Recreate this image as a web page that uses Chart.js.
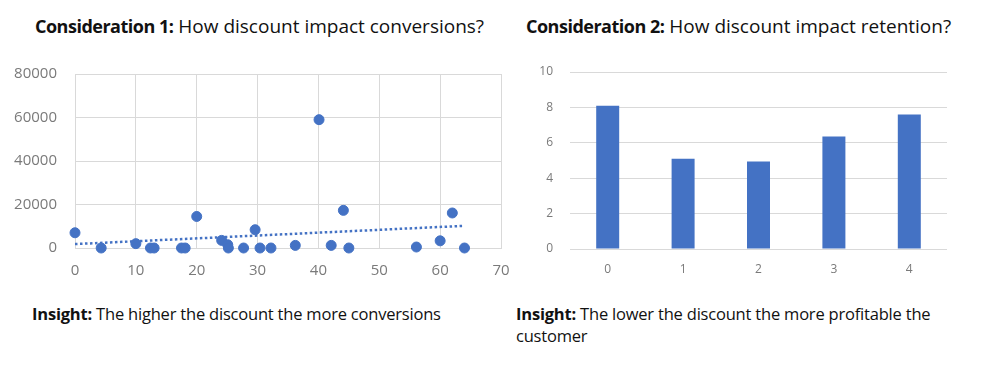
<!DOCTYPE html>
<html>
<head>
<meta charset="utf-8">
<script src="https://cdn.jsdelivr.net/npm/chart.js@4"></script>
<style>
  body { margin: 0; background: #fff; width: 992px; height: 385px; position: relative; overflow: hidden; font-family: "Open Sans", sans-serif; }
  .title { position: absolute; top: 13px; font-size: 19px; color: #111; white-space: nowrap; }
  .title b { font-size: 18px; font-weight: 700; letter-spacing: -0.5px; }
  .insight { position: absolute; font-size: 16.5px; color: #111; line-height: 22px; letter-spacing: -0.2px; }
  .insight b { font-weight: 700; }
  .box { position: absolute; }
</style>
</head>
<body>
<div class="title" style="left:35px">Consideration 1: How discount impact conversions?</div>
<div class="title" style="left:526px">Consideration 2: How discount impact retention?</div>
<div class="box" style="left:0; top:60px; width:515px; height:230px"><canvas id="scatter"></canvas></div>
<div class="box" style="left:515px; top:55px; width:477px; height:235px"><canvas id="bars"></canvas></div>
<div class="insight" style="left:32px; top:303px; width:450px"><b>Insight:</b> The higher the discount the more conversions</div>
<div class="insight" style="left:516px; top:303px; width:430px"><b>Insight:</b> The lower the discount the more profitable the customer</div>
<script>
// Consideration 1 data
const discount = [0, 4.3, 10, 12.4, 13, 17.5, 18.1, 20, 24.1, 25.1, 25.2, 27.7, 29.6, 30.4, 32.2, 36.2, 40.1, 42.1, 44.1, 45, 56.1, 60, 62, 64];
const conversions = [7000, 0, 2000, 0, 0, 0, 0, 14500, 3500, 1500, 0, 0, 8400, 0, 0, 1200, 59000, 1200, 17300, 0, 450, 3300, 16100, 0];
const trendX = [0, 64];
const trendY = [1800, 10200];

// Consideration 2 data
const categories = ["0", "1", "2", "3", "4"];
const retention = [8.1, 5.1, 4.95, 6.35, 7.6];

const blue = "#4472C4";
const grid = "#d9d9d9";
const tickColor = "#7a7a7a";

// bold the "Consideration N:" part of each title
document.querySelectorAll(".title").forEach((el) => {
  const t = el.textContent;
  const i = t.indexOf(":") + 1;
  el.innerHTML = "<b>" + t.slice(0, i) + "</b>" + t.slice(i);
});

// keep the plot areas exactly where the layout padding puts them
const noPadX = (s, h) => { s.height = h; s.paddingLeft = 0; s.paddingRight = 0; };
const noPadY = (s, w) => { s.width = w; s.paddingTop = 0; s.paddingBottom = 0; };

new Chart(document.getElementById("scatter"), {
  type: "scatter",
  data: {
    datasets: [
      {
        data: discount.map((x, i) => ({ x: x, y: conversions[i] })),
        backgroundColor: blue,
        borderColor: blue,
        pointRadius: 5,
        clip: false,
      },
      {
        type: "line",
        data: trendX.map((x, i) => ({ x: x, y: trendY[i] })),
        borderColor: blue,
        borderWidth: 2.5,
        borderDash: [2.5, 2.5],
        pointRadius: 0,
        showLine: true,
        clip: false,
      },
    ],
  },
  options: {
    responsive: true,
    maintainAspectRatio: false,
    animation: false,
    layout: { padding: { top: 14, right: 14, bottom: 0, left: 0 } },
    plugins: { legend: { display: false }, tooltip: { enabled: false } },
    scales: {
      x: {
        min: 0,
        max: 70,
        ticks: { stepSize: 10, color: tickColor, padding: 14, font: { family: "Open Sans", size: 15 } },
        grid: { color: grid, drawTicks: false },
        border: { color: grid },
        afterFit: (s) => noPadX(s, 42),
      },
      y: {
        min: 0,
        max: 80000,
        ticks: {
          stepSize: 20000,
          color: tickColor,
          padding: 18,
          font: { family: "Open Sans", size: 15 },
          callback: (v) => String(v),
        },
        grid: { color: grid, drawTicks: false },
        border: { color: grid },
        afterFit: (s) => noPadY(s, 75),
      },
    },
  },
});

new Chart(document.getElementById("bars"), {
  type: "bar",
  data: {
    labels: categories,
    datasets: [
      {
        data: retention,
        backgroundColor: blue,
        barPercentage: 0.5,
        categoryPercentage: 0.61,
      },
    ],
  },
  options: {
    responsive: true,
    maintainAspectRatio: false,
    animation: false,
    layout: { padding: { top: 17, right: 45, bottom: 0, left: 0 } },
    plugins: { legend: { display: false }, tooltip: { enabled: false } },
    scales: {
      x: {
        ticks: { color: tickColor, padding: 13, font: { family: "Open Sans", size: 12 } },
        grid: { display: false, drawTicks: false },
        border: { display: false },
        afterFit: (s) => noPadX(s, 41),
      },
      y: {
        min: 0,
        max: 10,
        ticks: { stepSize: 2, color: tickColor, padding: 17, font: { family: "Open Sans", size: 12 } },
        grid: { color: grid, drawTicks: false },
        border: { display: false },
        afterFit: (s) => noPadY(s, 55),
      },
    },
  },
});
</script>
</body>
</html>
